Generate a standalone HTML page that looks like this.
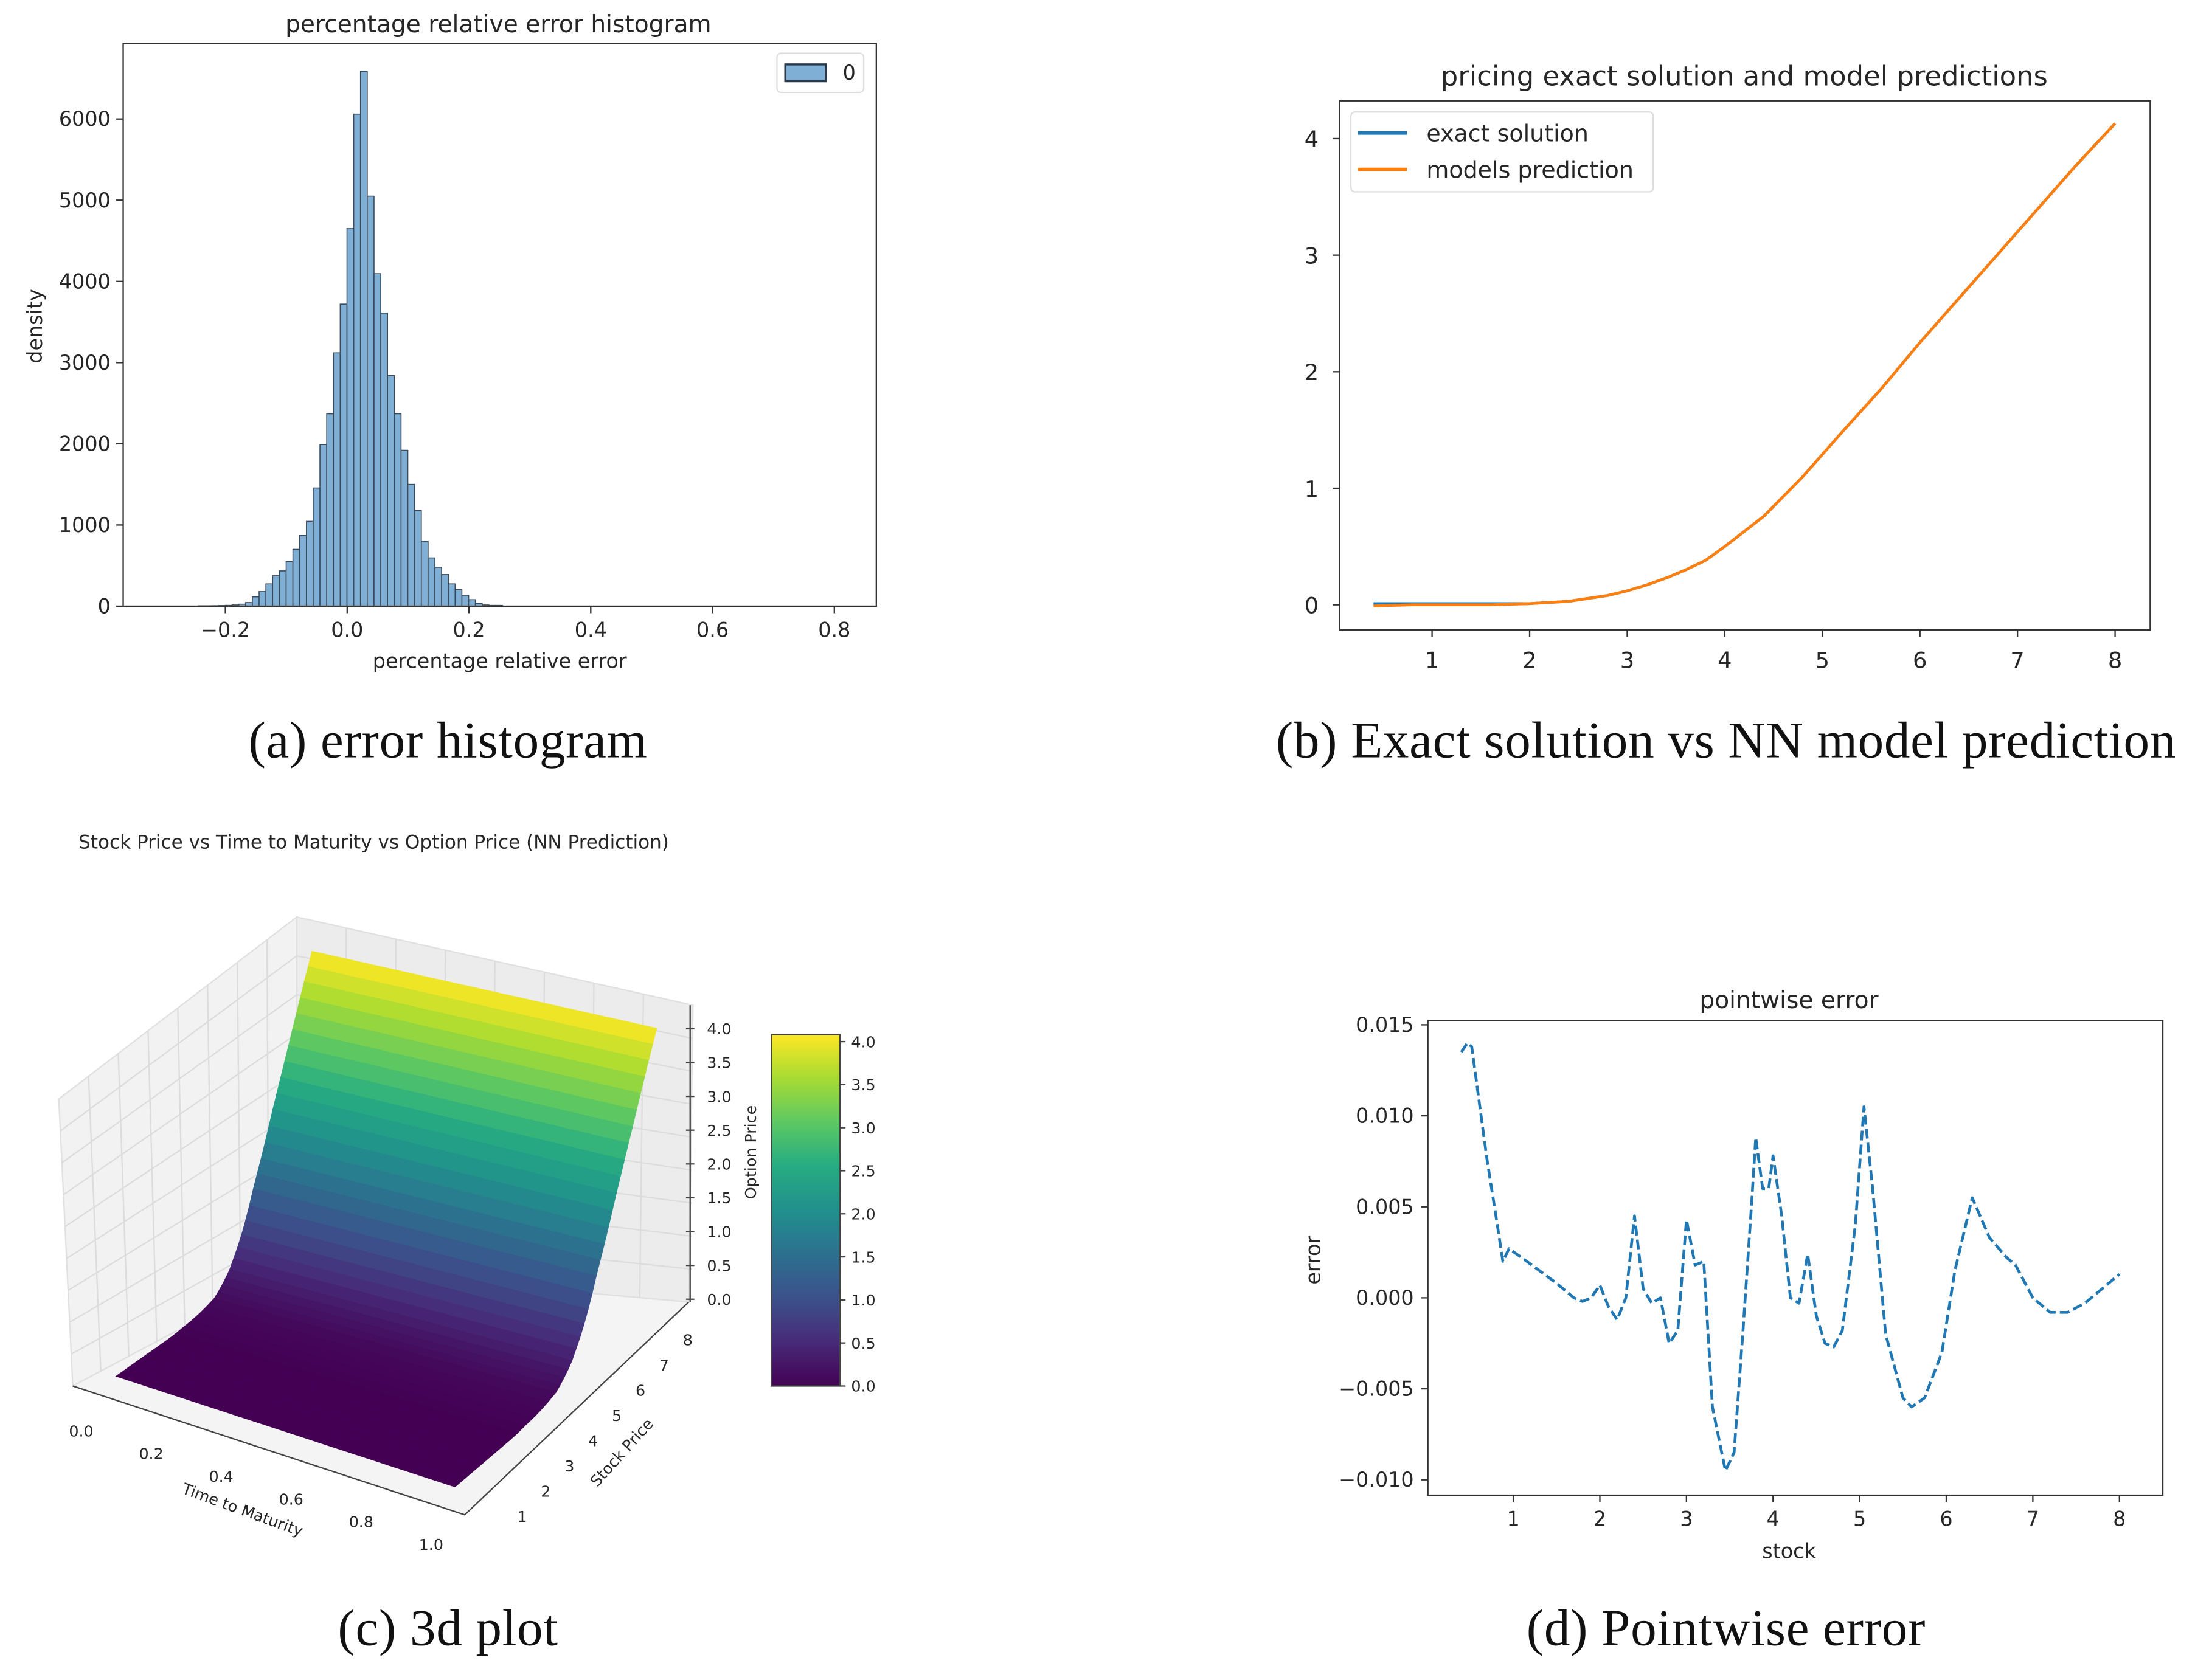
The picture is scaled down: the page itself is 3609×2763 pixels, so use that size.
<!DOCTYPE html>
<html><head><meta charset="utf-8"><style>
html,body{margin:0;padding:0;background:#fff;}
svg{display:block;}
text{font-family:"DejaVu Sans","Liberation Sans",sans-serif;fill:#262626;}
.cap{font-family:"Liberation Serif","DejaVu Serif",serif;font-size:37px;fill:#111;letter-spacing:0.3px;}
.tk{font-size:14.5px;}
.ttl{font-size:17px;}
</style></head><body>
<svg id="fig" width="3609" height="2763" viewBox="0 0 1568 1200" preserveAspectRatio="none" xmlns="http://www.w3.org/2000/svg">
<g id="ga"></g>
<g id="gb"></g>
<g id="gc"></g>
<g id="gd"></g>
<text class="cap" x="320" y="541" text-anchor="middle">(a) error histogram</text>
<text class="cap" x="1233" y="541" text-anchor="middle">(b) Exact solution vs NN model prediction</text>
<text class="cap" x="320" y="1175" text-anchor="middle">(c) 3d plot</text>
<text class="cap" x="1233" y="1175" text-anchor="middle">(d) Pointwise error</text>
</svg>
<script>
// ---- data ----
const histBinStart = -0.2445;
const histBinWidth = 0.0111;
const histCounts = [5,5,6,8,10,15,25,45,115,180,275,375,435,550,700,870,1045,1456,1990,2370,3120,3720,4650,6060,6586,5050,4095,3610,2840,2370,1920,1500,1180,800,595,480,390,275,205,135,80,35,15,10,10];
const histXTicks = [-0.2,0.0,0.2,0.4,0.6,0.8];
const histYTicks = [0,1000,2000,3000,4000,5000,6000];

const priceStock = [0.4,0.8,1.2,1.6,2.0,2.4,2.8,3.0,3.2,3.4,3.6,3.8,4.0,4.4,4.8,5.2,5.6,6.0,6.4,6.8,7.2,7.6,8.0];
const priceExact = [0.01,0.01,0.01,0.01,0.01,0.03,0.08,0.12,0.17,0.23,0.3,0.38,0.5,0.76,1.1,1.48,1.85,2.25,2.63,3.01,3.39,3.77,4.13];
const pricePred  = [-0.01,0.0,0.0,0.0,0.01,0.03,0.08,0.12,0.17,0.23,0.3,0.38,0.5,0.76,1.1,1.48,1.85,2.25,2.63,3.01,3.39,3.77,4.13];
const priceXTicks = [1,2,3,4,5,6,7,8];
const priceYTicks = [0,1,2,3,4];

const errStock = [0.4,0.47,0.52,0.6,0.7,0.8,0.88,0.95,1.1,1.3,1.5,1.7,1.8,1.9,2.0,2.1,2.2,2.3,2.4,2.5,2.6,2.7,2.8,2.9,3.0,3.1,3.2,3.3,3.45,3.55,3.65,3.75,3.8,3.88,3.95,4.0,4.1,4.2,4.3,4.4,4.5,4.6,4.7,4.8,4.95,5.05,5.15,5.3,5.5,5.6,5.75,5.95,6.1,6.3,6.5,6.7,6.8,7.0,7.2,7.4,7.6,7.8,8.0];
const errValue = [0.0135,0.014,0.0138,0.011,0.0075,0.0045,0.002,0.0027,0.0022,0.0015,0.0008,0.0,-0.0002,0.0,0.0007,-0.0005,-0.0012,0.0,0.0045,0.0005,-0.0003,0.0,-0.0025,-0.0018,0.0043,0.0018,0.002,-0.006,-0.0095,-0.0085,-0.002,0.005,0.0088,0.006,0.006,0.0078,0.0045,0.0,-0.0003,0.0024,-0.001,-0.0025,-0.0027,-0.0018,0.004,0.0105,0.006,-0.002,-0.0055,-0.006,-0.0055,-0.003,0.0015,0.0055,0.0033,0.0022,0.0018,0.0,-0.0008,-0.0008,-0.0003,0.0005,0.0013];
const errXTicks = [1,2,3,4,5,6,7,8];
const errYTicks = [-0.010,-0.005,0.000,0.005,0.010,0.015];
const errYLabels = ["\u22120.010","\u22120.005","0.000","0.005","0.010","0.015"];

const surfStock = [0.4,0.6,0.8,1.0,1.2,1.4,1.6,1.8,2.0,2.2,2.4,2.6,2.8,3.0,3.2,3.4,3.6,3.8,4.0,4.2,4.4,4.6,4.8,5.0,5.2,5.4,5.6,5.8,6.0,6.2,6.4,6.6,6.8,7.0,7.2,7.4,7.6,7.8,8.0];
const surfPrice = [0,0,0,0,0,0,0,0,0.005,0.02,0.03,0.05,0.08,0.12,0.17,0.23,0.3,0.38,0.5,0.62,0.76,0.92,1.1,1.3,1.48,1.66,1.85,2.05,2.25,2.44,2.63,2.82,3.01,3.2,3.39,3.58,3.77,3.95,4.13];
const cbTicks = [0.0,0.5,1.0,1.5,2.0,2.5,3.0,3.5,4.0];
const zTicks = [0.0,0.5,1.0,1.5,2.0,2.5,3.0,3.5,4.0];
const timeTicks = [0.0,0.2,0.4,0.6,0.8,1.0];
const stockTicks = [1,2,3,4,5,6,7,8];

const NS="http://www.w3.org/2000/svg";
function mk(parent, tag, attrs, txt){const e=document.createElementNS(NS,tag);for(const k in attrs)e.setAttribute(k,attrs[k]);if(txt!==undefined)e.textContent=txt;parent.appendChild(e);return e;}

// ---- (a) histogram ----
(function(){
const g=document.getElementById('ga');
const L=88,R=626,T=31,B=433;
const sx=v=>248+v*435, sy=v=>B-v*0.058;
mk(g,'text',{class:'ttl',x:356,y:23,'text-anchor':'middle',},'percentage relative error histogram');
histCounts.forEach((c,i)=>{
  const x0=sx(histBinStart+i*histBinWidth), x1=sx(histBinStart+(i+1)*histBinWidth);
  const r=mk(g,'rect',{x:x0,y:sy(c),width:x1-x0,height:B-sy(c),fill:'#7fafd4',stroke:'#3a4a5a','stroke-width':0.7});
  
  
});
mk(g,'rect',{x:L,y:T,width:R-L,height:B-T,fill:'none',stroke:'#333','stroke-width':1,});
histXTicks.forEach(v=>{mk(g,'line',{x1:sx(v),x2:sx(v),y1:B,y2:B+5,stroke:'#333'});
  const t=mk(g,'text',{class:'tk',x:sx(v),y:B+22,'text-anchor':'middle'},(v<0?'\u2212':'')+Math.abs(v).toFixed(1));
  });
histYTicks.forEach(v=>{mk(g,'line',{x1:L-5,x2:L,y1:sy(v),y2:sy(v),stroke:'#333'});
  const t=mk(g,'text',{class:'tk',x:L-9,y:sy(v)+5,'text-anchor':'end'},String(v));
  });
mk(g,'text',{class:'tk',x:357,y:477,'text-anchor':'middle',},'percentage relative error');
mk(g,'text',{class:'tk',x:30,y:233,'text-anchor':'middle',transform:'rotate(-90 30 233)',},'density');
const lg=mk(g,'g',{});
mk(lg,'rect',{x:555,y:38,width:62,height:28,rx:3,fill:'#fff',stroke:'#ddd'});
mk(lg,'rect',{x:561,y:46,width:29,height:12,fill:'#7fafd4',stroke:'#2a3a4a','stroke-width':1.5});
mk(lg,'text',{class:'tk',x:602,y:57},'0');
})();

// ---- (b) pricing ----
(function(){
const g=document.getElementById('gb');
const L=957,R=1536,T=72,B=450;
const sx=v=>1023+(v-1)*69.7, sy=v=>432-v*83.25;
mk(g,'text',{x:1246,y:61,'text-anchor':'middle','font-size':19.5,},'pricing exact solution and model predictions');
mk(g,'rect',{x:L,y:T,width:R-L,height:B-T,fill:'none',stroke:'#333',});
priceXTicks.forEach(v=>{mk(g,'line',{x1:sx(v),x2:sx(v),y1:B,y2:B+5,stroke:'#333'});
  const t=mk(g,'text',{x:sx(v),y:B+27,'text-anchor':'middle','font-size':16},String(v));
  });
priceYTicks.forEach(v=>{mk(g,'line',{x1:L-5,x2:L,y1:sy(v),y2:sy(v),stroke:'#333'});
  const t=mk(g,'text',{x:L-15,y:sy(v)+6,'text-anchor':'end','font-size':16},String(v));
  });
const pe=mk(g,'polyline',{points:priceStock.map((s,i)=>sx(s)+','+sy(priceExact[i])).join(' '),fill:'none',stroke:'#1f77b4','stroke-width':2,'stroke-linejoin':'round'});

const pp=mk(g,'polyline',{points:priceStock.map((s,i)=>sx(s)+','+sy(pricePred[i])).join(' '),fill:'none',stroke:'#ff7f0e','stroke-width':2,'stroke-linejoin':'round'});

const lg=mk(g,'g',{});
mk(lg,'rect',{x:965,y:80,width:216,height:57,rx:3,fill:'#fff',stroke:'#ddd'});
mk(lg,'line',{x1:970,x2:1005,y1:95,y2:95,stroke:'#1f77b4','stroke-width':2.5});
mk(lg,'line',{x1:970,x2:1005,y1:121,y2:121,stroke:'#ff7f0e','stroke-width':2.5});
mk(lg,'text',{x:1019,y:101,'font-size':16.5},'exact solution');
mk(lg,'text',{x:1019,y:127,'font-size':16.5},'models prediction');
})();

// ---- (d) pointwise error ----
(function(){
const g=document.getElementById('gd');
const L=1020,R=1545,T=729,B=1068;
const sx=v=>1081+(v-1)*61.86, sy=v=>927-v*13000;
mk(g,'text',{class:'ttl',x:1278,y:720,'text-anchor':'middle',},'pointwise error');
mk(g,'rect',{x:L,y:T,width:R-L,height:B-T,fill:'none',stroke:'#333',});
errXTicks.forEach(v=>{mk(g,'line',{x1:sx(v),x2:sx(v),y1:B,y2:B+5,stroke:'#333'});
  const t=mk(g,'text',{class:'tk',x:sx(v),y:B+22,'text-anchor':'middle'},String(v));
  });
errYTicks.forEach((v,i)=>{mk(g,'line',{x1:L-5,x2:L,y1:sy(v),y2:sy(v),stroke:'#333'});
  const t=mk(g,'text',{class:'tk',x:L-10,y:sy(v)+5,'text-anchor':'end'},errYLabels[i]);
  });
mk(g,'text',{class:'tk',x:1278,y:1113,'text-anchor':'middle',},'stock');
mk(g,'text',{class:'tk',x:943,y:900,'text-anchor':'middle',transform:'rotate(-90 943 900)',},'error');
const pl=mk(g,'polyline',{points:errStock.map((s,i)=>sx(s)+','+sy(errValue[i])).join(' '),fill:'none',stroke:'#1f77b4','stroke-width':2,'stroke-dasharray':'7 3','stroke-linejoin':'round'});

})();

// ---- (c) 3d surface ----
(function(){
const g=document.getElementById('gc');
mk(g,'text',{x:267,y:606,'text-anchor':'middle','font-size':13.5,},'Stock Price vs Time to Maturity vs Option Price (NN Prediction)');
mk(g,'polygon',{points:'42,785 212,655 212,905 52,990',fill:'#f2f2f2',stroke:'#e0e0e0',});
mk(g,'polygon',{points:'212,655 495,718 492,930 212,905',fill:'#ececec',stroke:'#e0e0e0',});
mk(g,'polygon',{points:'52,990 212,905 492,930 332,1082',fill:'#f4f4f4',stroke:'#e0e0e0',});
for(let i=1;i<8;i++){const f=i/8;
  mk(g,'line',{x1:212+(52-212)*f,y1:905+(990-905)*f,x2:212+(42-212)*f,y2:655+(785-655)*f,stroke:'#dcdcdc'});
  mk(g,'line',{x1:212+(492-212)*f,y1:905+(930-905)*f,x2:212+(495-212)*f,y2:655+(718-655)*f,stroke:'#dcdcdc'});}
for(let i=1;i<9;i++){const f=i/9;
  mk(g,'line',{x1:52+(42-52)*f,y1:990-(990-785)*f,x2:212,y2:905-(905-655)*f,stroke:'#dcdcdc'});
  mk(g,'line',{x1:212,y1:905-(905-655)*f,x2:494,y2:930-(930-718)*f,stroke:'#dcdcdc'});}
// projection: perspective-like compression of stock axis
const sf=s=>{const u=(s-0.4)/7.6; return u<=0.342 ? u/0.342*0.5 : 0.5+0.5*(u-0.342)/0.658;};
const P=(t,s,z)=>{const f=sf(s);return [83+t*(242+4*f)+f*140, 983+t*(79-24*f)-f*99-z*49.5];};
const stops=[[0,68,1,84],[0.13,71,44,122],[0.25,59,81,139],[0.38,44,113,142],[0.5,33,144,141],[0.63,39,173,129],[0.75,92,200,99],[0.88,170,220,50],[1,253,231,37]];
function vir(v){v=Math.max(0,Math.min(1,v));for(let i=1;i<stops.length;i++){if(v<=stops[i][0]){const a=stops[i-1],b=stops[i],f=(v-a[0])/(b[0]-a[0]);return 'rgb('+[1,2,3].map(k=>Math.round(a[k]+(b[k]-a[k])*f)).join(',')+')';}}return 'rgb(253,231,37)';}
for(let i=surfStock.length-2;i>=0;i--){
  const s0=surfStock[i],s1=surfStock[i+1],z0=surfPrice[i],z1=surfPrice[i+1];
  const a=P(0,s0,z0),b=P(1,s0,z0),c=P(1,s1,z1),d=P(0,s1,z1);
  const col=vir((z0+z1)/2/4.13);
  const q=mk(g,'polygon',{points:[a,b,c,d].map(p=>p.join(',')).join(' '),fill:col,stroke:col,'stroke-width':0.6});
  
}
mk(g,'line',{x1:493,y1:718,x2:493,y2:930,stroke:'#444'});
zTicks.forEach(v=>{const y=928-v*48.3;mk(g,'line',{x1:490,x2:496,y1:y,y2:y,stroke:'#444'});
  const t=mk(g,'text',{x:505,y:y+4,'font-size':11},v.toFixed(1));});
mk(g,'text',{x:540,y:823,'font-size':11,'text-anchor':'middle',transform:'rotate(-90 540 823)',},'Option Price');
mk(g,'line',{x1:52,y1:990,x2:332,y2:1082,stroke:'#444'});
timeTicks.forEach((v,i)=>{const t=mk(g,'text',{x:58+i*50,y:1026+i*16.2,'font-size':11,'text-anchor':'middle'},v.toFixed(1));});
mk(g,'text',{x:172,y:1082,'font-size':11,'text-anchor':'middle',transform:'rotate(20 172 1082)',},'Time to Maturity');
mk(g,'line',{x1:332,y1:1082,x2:492,y2:930,stroke:'#444'});
stockTicks.forEach((v,i)=>{const t=mk(g,'text',{x:373+i*16.9,y:1087-i*18,'font-size':11,'text-anchor':'middle'},String(v));});
mk(g,'text',{x:447,y:1040,'font-size':11,'text-anchor':'middle',transform:'rotate(-48 447 1040)',},'Stock Price');
const defs=mk(g,'defs',{});const lgd=mk(defs,'linearGradient',{id:'vg',x1:0,y1:1,x2:0,y2:0});
stops.forEach(s=>mk(lgd,'stop',{offset:s[0],'stop-color':'rgb('+s[1]+','+s[2]+','+s[3]+')'}));
mk(g,'rect',{x:551,y:739,width:49,height:251,fill:'url(#vg)',stroke:'#444',});
cbTicks.forEach(v=>{const y=990-v*61.5;mk(g,'line',{x1:600,x2:604,y1:y,y2:y,stroke:'#444'});
  const t=mk(g,'text',{x:608,y:y+4,'font-size':11},v.toFixed(1));});
})();
</script>
</body></html>
